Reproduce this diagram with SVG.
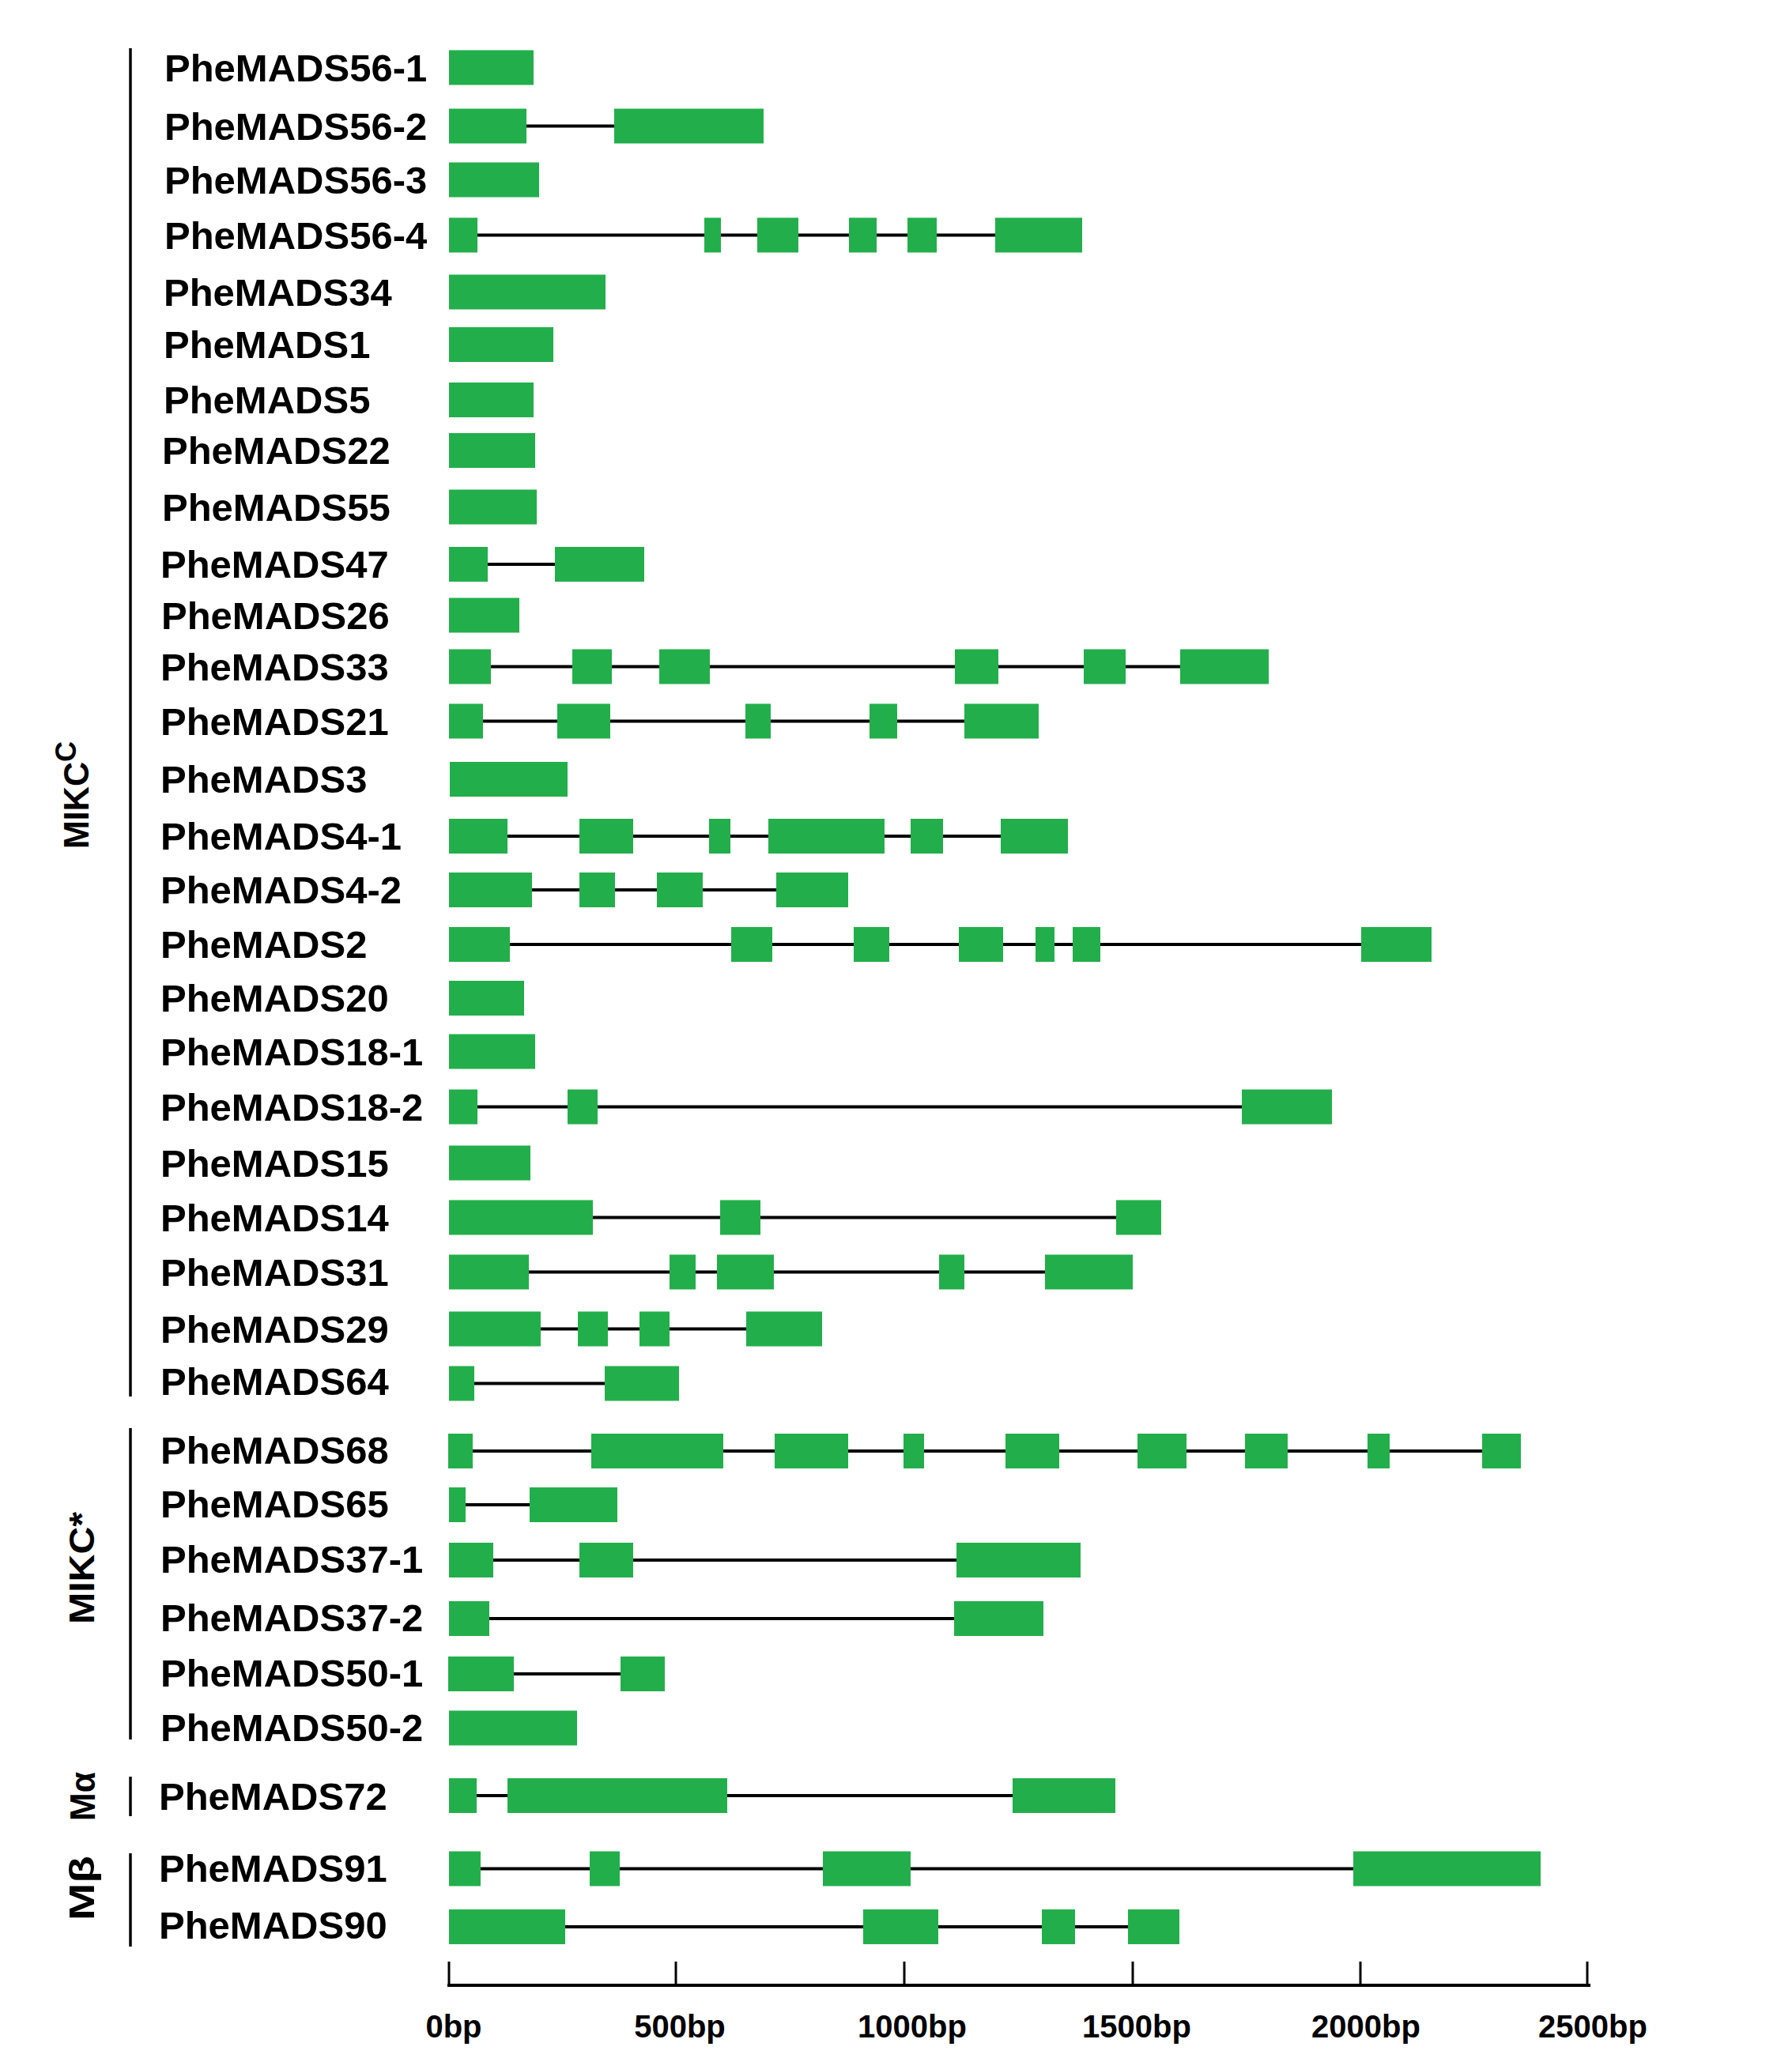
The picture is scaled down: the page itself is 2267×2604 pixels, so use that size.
<svg xmlns="http://www.w3.org/2000/svg" width="2267" height="2604" viewBox="0 0 2267 2604">
<style>
.lbl{font-family:"Liberation Sans",Arial,sans-serif;font-weight:bold;font-size:49px;fill:#000}
.grp{font-family:"Liberation Sans",Arial,sans-serif;font-weight:bold;font-size:44px;fill:#000}
.ax{font-family:"Liberation Sans",Arial,sans-serif;font-weight:bold;font-size:40px;fill:#000;text-anchor:middle}
.ex{fill:#22AF4B}
.in{stroke:#000;stroke-width:4;fill:none}
.br{stroke:#000;stroke-width:3.5;fill:none}
</style>
<rect width="2267" height="2604" fill="#fff"/>
<g id="brackets">
<line class="br" x1="165" y1="61" x2="165" y2="1767"/>
<line class="br" x1="165" y1="1807" x2="165" y2="2201"/>
<line class="br" x1="165" y1="2248" x2="165" y2="2298"/>
<line class="br" x1="165" y1="2345" x2="165" y2="2463"/>
</g>
<g id="group-labels">
<text class="grp" transform="translate(112,1074) rotate(-90)"><tspan textLength="110" lengthAdjust="spacingAndGlyphs">MIKC</tspan><tspan dy="-16" font-size="36">C</tspan></text>
<text class="grp" transform="translate(119,2055) rotate(-90)" textLength="142" lengthAdjust="spacingAndGlyphs">MIKC*</text>
<text class="grp" transform="translate(120,2304) rotate(-90)" textLength="62" lengthAdjust="spacingAndGlyphs">Mα</text>
<text class="grp" transform="translate(119,2430) rotate(-90)" textLength="82" lengthAdjust="spacingAndGlyphs">Mβ</text>
</g>
<g id="connectors">
<line class="in" x1="568" y1="159.5" x2="966" y2="159.5"/>
<line class="in" x1="568" y1="297.5" x2="1369" y2="297.5"/>
<line class="in" x1="568" y1="714" x2="815" y2="714"/>
<line class="in" x1="568" y1="843.5" x2="1605" y2="843.5"/>
<line class="in" x1="568" y1="912.5" x2="1314" y2="912.5"/>
<line class="in" x1="568" y1="1058" x2="1351" y2="1058"/>
<line class="in" x1="568" y1="1126" x2="1073" y2="1126"/>
<line class="in" x1="568" y1="1195" x2="1811" y2="1195"/>
<line class="in" x1="568" y1="1400.5" x2="1685" y2="1400.5"/>
<line class="in" x1="568" y1="1540.5" x2="1469" y2="1540.5"/>
<line class="in" x1="568" y1="1609.5" x2="1433" y2="1609.5"/>
<line class="in" x1="568" y1="1681.5" x2="1040" y2="1681.5"/>
<line class="in" x1="568" y1="1750.5" x2="859" y2="1750.5"/>
<line class="in" x1="567" y1="1836" x2="1924" y2="1836"/>
<line class="in" x1="568" y1="1904" x2="781" y2="1904"/>
<line class="in" x1="568" y1="1974" x2="1367" y2="1974"/>
<line class="in" x1="568" y1="2048" x2="1320" y2="2048"/>
<line class="in" x1="567" y1="2118" x2="841" y2="2118"/>
<line class="in" x1="568" y1="2272" x2="1411" y2="2272"/>
<line class="in" x1="568" y1="2364.5" x2="1949" y2="2364.5"/>
<line class="in" x1="568" y1="2438" x2="1492" y2="2438"/>
</g>
<g id="g56-1"><text class="lbl" x="208" y="102.5">PheMADS56-1</text><rect class="ex" x="568" y="63.5" width="107" height="44"/></g>
<g id="g56-2"><text class="lbl" x="208" y="176.5">PheMADS56-2</text><rect class="ex" x="568" y="137.5" width="98" height="44"/><rect class="ex" x="777" y="137.5" width="189" height="44"/></g>
<g id="g56-3"><text class="lbl" x="208" y="244.5">PheMADS56-3</text><rect class="ex" x="568" y="205.5" width="114" height="44"/></g>
<g id="g56-4"><text class="lbl" x="208" y="314.5">PheMADS56-4</text><rect class="ex" x="568" y="275.5" width="36" height="44"/><rect class="ex" x="891" y="275.5" width="21" height="44"/><rect class="ex" x="958" y="275.5" width="52" height="44"/><rect class="ex" x="1074" y="275.5" width="35" height="44"/><rect class="ex" x="1148" y="275.5" width="37" height="44"/><rect class="ex" x="1259" y="275.5" width="110" height="44"/></g>
<g id="g34"><text class="lbl" x="207" y="386.5">PheMADS34</text><rect class="ex" x="568" y="347.5" width="198" height="44"/></g>
<g id="g1"><text class="lbl" x="207" y="453">PheMADS1</text><rect class="ex" x="568" y="414" width="132" height="44"/></g>
<g id="g5"><text class="lbl" x="207" y="523">PheMADS5</text><rect class="ex" x="568" y="484" width="107" height="44"/></g>
<g id="g22"><text class="lbl" x="205" y="587">PheMADS22</text><rect class="ex" x="568" y="548" width="109" height="44"/></g>
<g id="g55"><text class="lbl" x="205" y="658.5">PheMADS55</text><rect class="ex" x="568" y="619.5" width="111" height="44"/></g>
<g id="g47"><text class="lbl" x="203" y="731">PheMADS47</text><rect class="ex" x="568" y="692" width="49" height="44"/><rect class="ex" x="702" y="692" width="113" height="44"/></g>
<g id="g26"><text class="lbl" x="204" y="795.5">PheMADS26</text><rect class="ex" x="568" y="756.5" width="89" height="44"/></g>
<g id="g33"><text class="lbl" x="203" y="860.5">PheMADS33</text><rect class="ex" x="568" y="821.5" width="53" height="44"/><rect class="ex" x="724" y="821.5" width="50" height="44"/><rect class="ex" x="834" y="821.5" width="64" height="44"/><rect class="ex" x="1208" y="821.5" width="55" height="44"/><rect class="ex" x="1371" y="821.5" width="53" height="44"/><rect class="ex" x="1493" y="821.5" width="112" height="44"/></g>
<g id="g21"><text class="lbl" x="203" y="929.5">PheMADS21</text><rect class="ex" x="568" y="890.5" width="43" height="44"/><rect class="ex" x="705" y="890.5" width="67" height="44"/><rect class="ex" x="943" y="890.5" width="32" height="44"/><rect class="ex" x="1100" y="890.5" width="35" height="44"/><rect class="ex" x="1220" y="890.5" width="94" height="44"/></g>
<g id="g3"><text class="lbl" x="203" y="1003">PheMADS3</text><rect class="ex" x="569" y="964" width="149" height="44"/></g>
<g id="g4-1"><text class="lbl" x="203" y="1075">PheMADS4-1</text><rect class="ex" x="568" y="1036" width="74" height="44"/><rect class="ex" x="733" y="1036" width="68" height="44"/><rect class="ex" x="897" y="1036" width="27" height="44"/><rect class="ex" x="972" y="1036" width="147" height="44"/><rect class="ex" x="1152" y="1036" width="41" height="44"/><rect class="ex" x="1266" y="1036" width="85" height="44"/></g>
<g id="g4-2"><text class="lbl" x="203" y="1143">PheMADS4-2</text><rect class="ex" x="568" y="1104" width="105" height="44"/><rect class="ex" x="733" y="1104" width="45" height="44"/><rect class="ex" x="831" y="1104" width="58" height="44"/><rect class="ex" x="982" y="1104" width="91" height="44"/></g>
<g id="g2"><text class="lbl" x="203" y="1212">PheMADS2</text><rect class="ex" x="568" y="1173" width="77" height="44"/><rect class="ex" x="925" y="1173" width="52" height="44"/><rect class="ex" x="1080" y="1173" width="45" height="44"/><rect class="ex" x="1213" y="1173" width="56" height="44"/><rect class="ex" x="1310" y="1173" width="24" height="44"/><rect class="ex" x="1357" y="1173" width="35" height="44"/><rect class="ex" x="1722" y="1173" width="89" height="44"/></g>
<g id="g20"><text class="lbl" x="203" y="1280">PheMADS20</text><rect class="ex" x="568" y="1241" width="95" height="44"/></g>
<g id="g18-1"><text class="lbl" x="203" y="1347.5">PheMADS18-1</text><rect class="ex" x="568" y="1308.5" width="109" height="44"/></g>
<g id="g18-2"><text class="lbl" x="203" y="1417.5">PheMADS18-2</text><rect class="ex" x="568" y="1378.5" width="36" height="44"/><rect class="ex" x="718" y="1378.5" width="38" height="44"/><rect class="ex" x="1571" y="1378.5" width="114" height="44"/></g>
<g id="g15"><text class="lbl" x="203" y="1488.5">PheMADS15</text><rect class="ex" x="568" y="1449.5" width="103" height="44"/></g>
<g id="g14"><text class="lbl" x="203" y="1557.5">PheMADS14</text><rect class="ex" x="568" y="1518.5" width="182" height="44"/><rect class="ex" x="911" y="1518.5" width="51" height="44"/><rect class="ex" x="1412" y="1518.5" width="57" height="44"/></g>
<g id="g31"><text class="lbl" x="203" y="1626.5">PheMADS31</text><rect class="ex" x="568" y="1587.5" width="101" height="44"/><rect class="ex" x="847" y="1587.5" width="33" height="44"/><rect class="ex" x="907" y="1587.5" width="72" height="44"/><rect class="ex" x="1188" y="1587.5" width="32" height="44"/><rect class="ex" x="1322" y="1587.5" width="111" height="44"/></g>
<g id="g29"><text class="lbl" x="203" y="1698.5">PheMADS29</text><rect class="ex" x="568" y="1659.5" width="116" height="44"/><rect class="ex" x="731" y="1659.5" width="38" height="44"/><rect class="ex" x="809" y="1659.5" width="38" height="44"/><rect class="ex" x="944" y="1659.5" width="96" height="44"/></g>
<g id="g64"><text class="lbl" x="203" y="1765">PheMADS64</text><rect class="ex" x="568" y="1728.5" width="32" height="44"/><rect class="ex" x="765" y="1728.5" width="94" height="44"/></g>
<g id="g68"><text class="lbl" x="203" y="1852">PheMADS68</text><rect class="ex" x="567" y="1814" width="31" height="44"/><rect class="ex" x="748" y="1814" width="167" height="44"/><rect class="ex" x="980" y="1814" width="93" height="44"/><rect class="ex" x="1143" y="1814" width="26" height="44"/><rect class="ex" x="1272" y="1814" width="68" height="44"/><rect class="ex" x="1439" y="1814" width="62" height="44"/><rect class="ex" x="1575" y="1814" width="54" height="44"/><rect class="ex" x="1730" y="1814" width="28" height="44"/><rect class="ex" x="1875" y="1814" width="49" height="44"/></g>
<g id="g65"><text class="lbl" x="203" y="1920">PheMADS65</text><rect class="ex" x="568" y="1882" width="21" height="44"/><rect class="ex" x="670" y="1882" width="111" height="44"/></g>
<g id="g37-1"><text class="lbl" x="203" y="1990">PheMADS37-1</text><rect class="ex" x="568" y="1952" width="56" height="44"/><rect class="ex" x="733" y="1952" width="68" height="44"/><rect class="ex" x="1210" y="1952" width="157" height="44"/></g>
<g id="g37-2"><text class="lbl" x="203" y="2064">PheMADS37-2</text><rect class="ex" x="568" y="2026" width="51" height="44"/><rect class="ex" x="1207" y="2026" width="113" height="44"/></g>
<g id="g50-1"><text class="lbl" x="203" y="2134">PheMADS50-1</text><rect class="ex" x="567" y="2096" width="83" height="44"/><rect class="ex" x="785" y="2096" width="56" height="44"/></g>
<g id="g50-2"><text class="lbl" x="203" y="2202.5">PheMADS50-2</text><rect class="ex" x="568" y="2164.5" width="162" height="44"/></g>
<g id="g72"><text class="lbl" x="201" y="2290">PheMADS72</text><rect class="ex" x="568" y="2250" width="35" height="44"/><rect class="ex" x="642" y="2250" width="278" height="44"/><rect class="ex" x="1281" y="2250" width="130" height="44"/></g>
<g id="g91"><text class="lbl" x="201" y="2381">PheMADS91</text><rect class="ex" x="568" y="2342.5" width="40" height="44"/><rect class="ex" x="746" y="2342.5" width="38" height="44"/><rect class="ex" x="1041" y="2342.5" width="111" height="44"/><rect class="ex" x="1712" y="2342.5" width="237" height="44"/></g>
<g id="g90"><text class="lbl" x="201" y="2453">PheMADS90</text><rect class="ex" x="568" y="2416" width="147" height="44"/><rect class="ex" x="1092" y="2416" width="95" height="44"/><rect class="ex" x="1318" y="2416" width="42" height="44"/><rect class="ex" x="1427" y="2416" width="65" height="44"/></g>
<g id="axis">
<line x1="566" y1="2512" x2="2012" y2="2512" stroke="#000" stroke-width="4"/>
<g stroke="#000" stroke-width="3">
<line x1="568" y1="2482" x2="568" y2="2512"/>
<line x1="855" y1="2482" x2="855" y2="2512"/>
<line x1="1144" y1="2482" x2="1144" y2="2512"/>
<line x1="1433" y1="2482" x2="1433" y2="2512"/>
<line x1="1721" y1="2482" x2="1721" y2="2512"/>
<line x1="2008" y1="2482" x2="2008" y2="2512"/>
</g>
<text class="ax" x="574" y="2578">0bp</text>
<text class="ax" x="860" y="2578">500bp</text>
<text class="ax" x="1154" y="2578">1000bp</text>
<text class="ax" x="1438" y="2578">1500bp</text>
<text class="ax" x="1728" y="2578">2000bp</text>
<text class="ax" x="2015" y="2578">2500bp</text>
</g>
</svg>
